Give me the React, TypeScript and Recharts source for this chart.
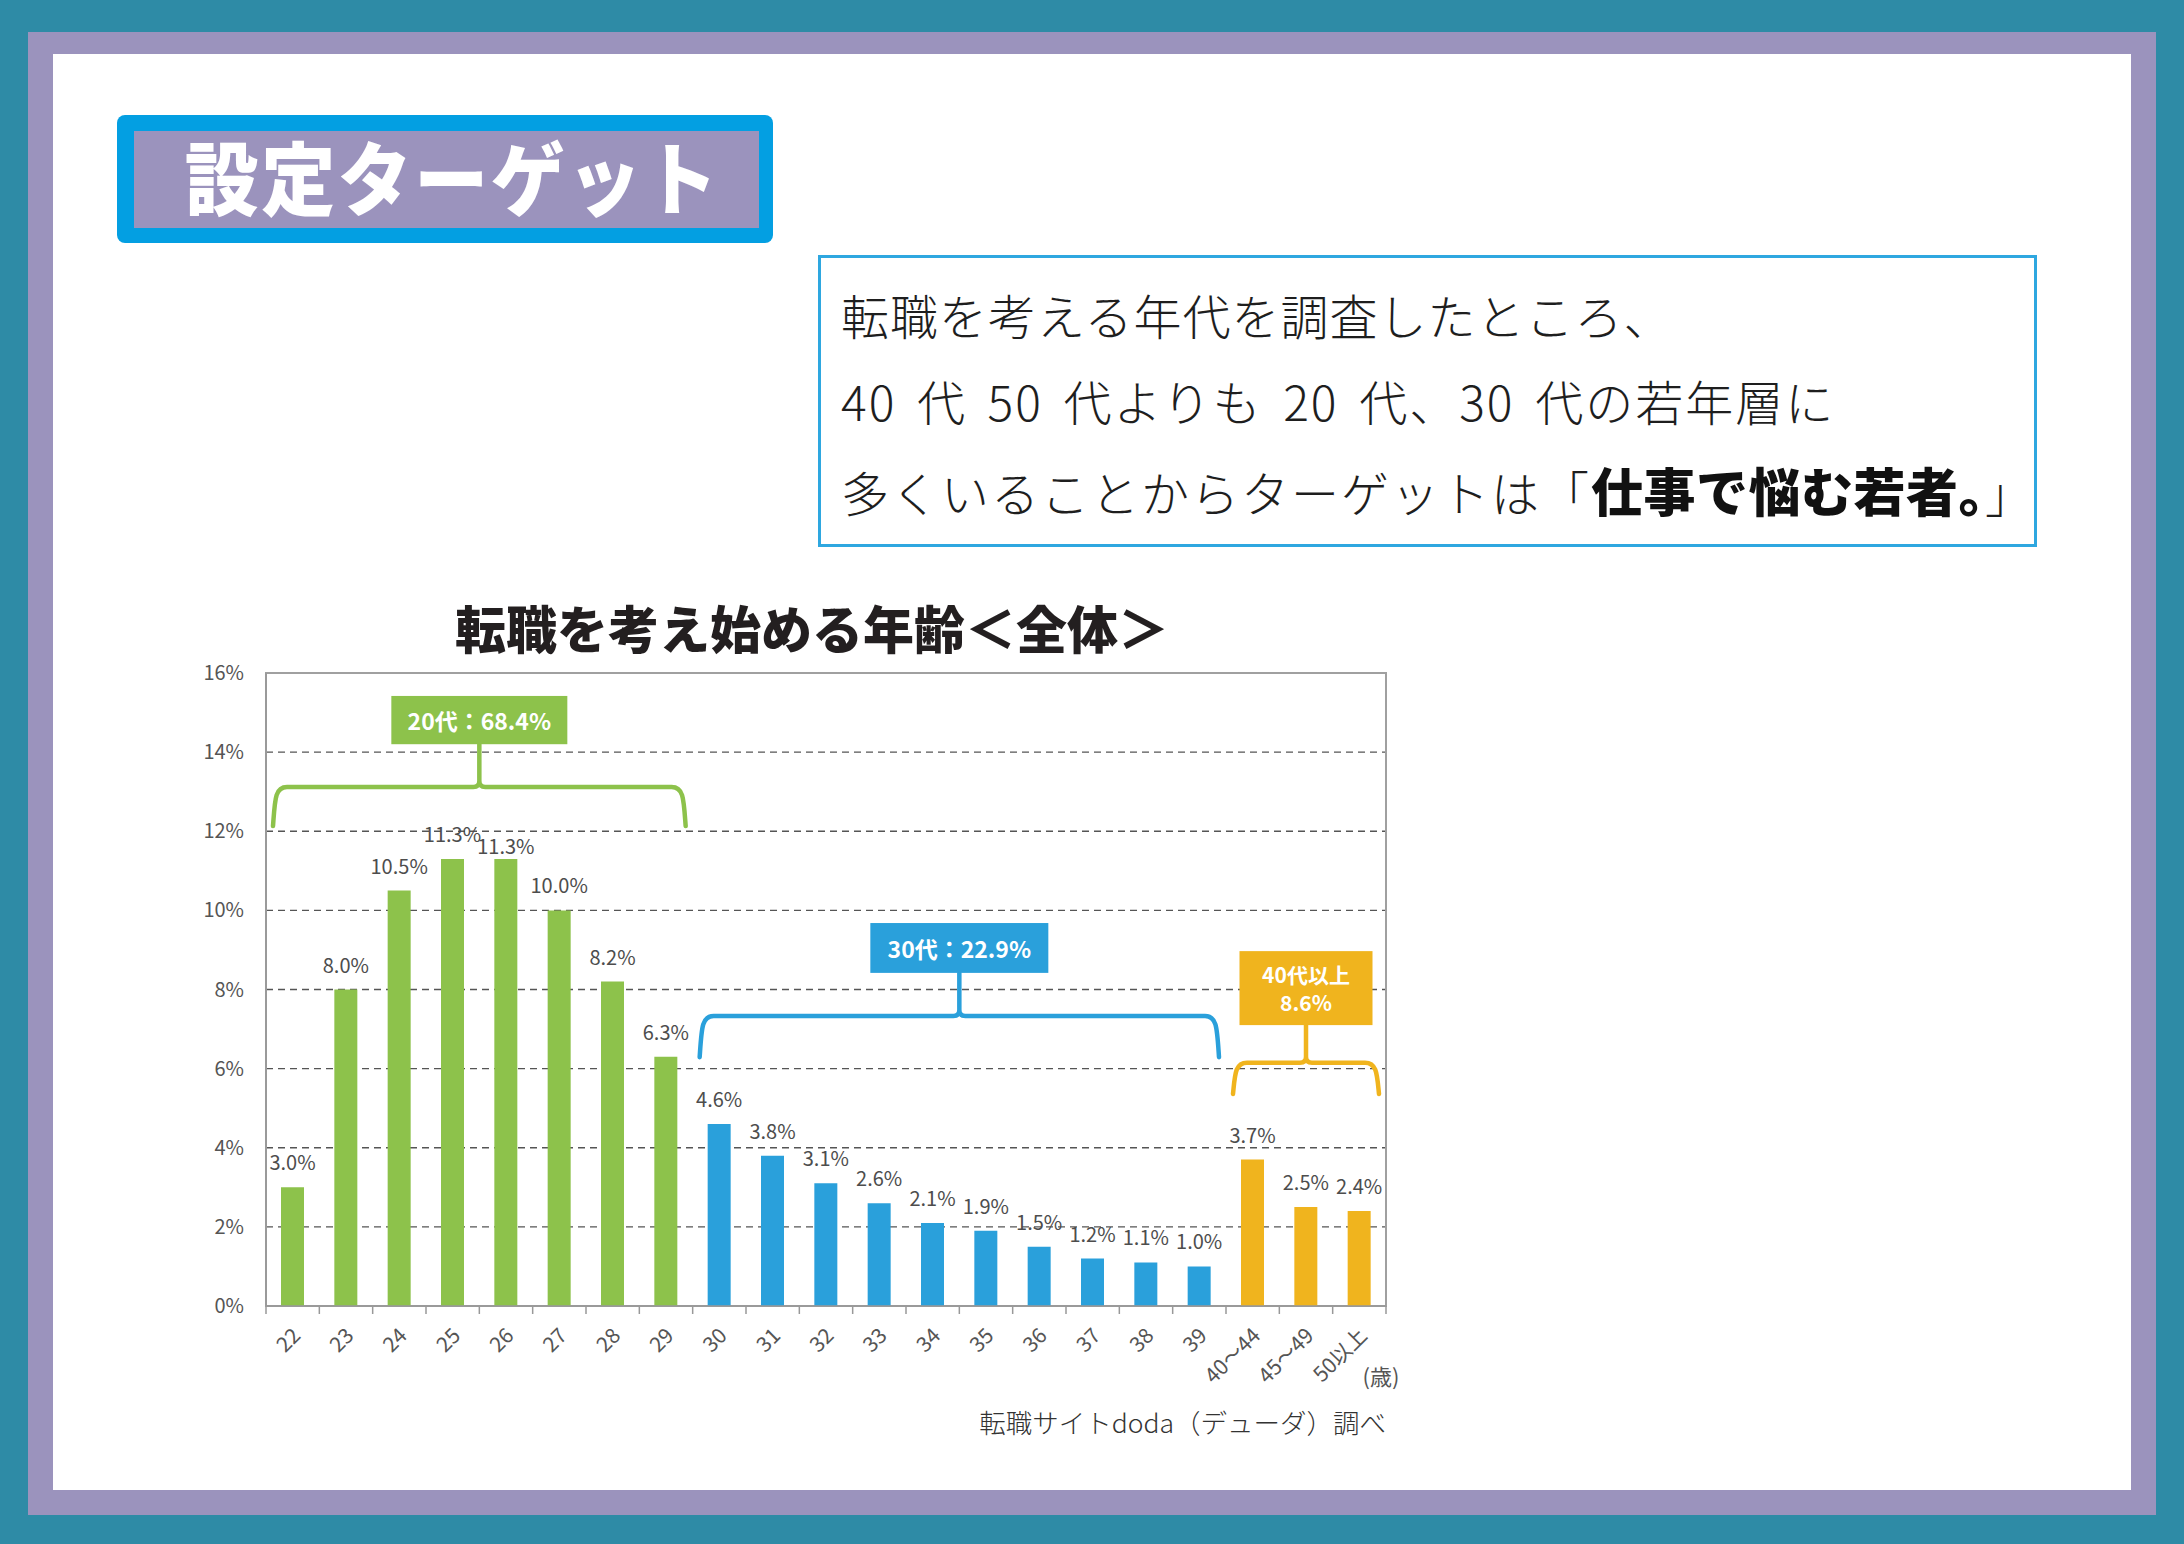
import React from 'react';
import {
  BarChart,
  Bar,
  XAxis,
  YAxis,
  CartesianGrid,
  Cell,
  LabelList,
  ReferenceArea,
} from 'recharts';

// ---------- data ----------
const ages = [
  '22', '23', '24', '25', '26', '27', '28', '29',
  '30', '31', '32', '33', '34', '35', '36', '37', '38', '39',
  '40～44', '45～49', '50以上',
];
const shares = [
  3.0, 8.0, 10.5, 11.3, 11.3, 10.0, 8.2, 6.3,
  4.6, 3.8, 3.1, 2.6, 2.1, 1.9, 1.5, 1.2, 1.1, 1.0,
  3.7, 2.5, 2.4,
];
const groups = [
  '20代', '20代', '20代', '20代', '20代', '20代', '20代', '20代',
  '30代', '30代', '30代', '30代', '30代', '30代', '30代', '30代', '30代', '30代',
  '40代以上', '40代以上', '40代以上',
];
const yTicks = [0, 2, 4, 6, 8, 10, 12, 14, 16];

// group annotation (brace) values, in % on the y axis
const braceGroups = ['20代', '30代', '40代以上'];
const braceFrom = ['22', '30', '40～44'];
const braceTo = ['29', '39', '50以上'];
const braceTip = [12.13, 6.29, 5.36];
const braceLine = [13.12, 7.33, 6.15];
const braceBoxBottom = [14.2, 8.42, 7.1];
const braceBoxTop = [15.42, 9.68, 8.97];
const braceLabels = [['20代：68.4%'], ['30代：22.9%'], ['40代以上', '8.6%']];

// ---------- style ----------
const COLORS: Record<string, string> = {
  '20代': '#8dc24b',
  '30代': '#2aa0db',
  '40代以上': '#f0b41e',
};
const BOX_W: Record<string, number> = { '20代': 176, '30代': 178, '40代以上': 133 };
const FONT = '"Noto Sans CJK JP", "Noto Sans", sans-serif';

const CH_LEFT = 180;
const CH_TOP = 600;
const CH_W = 1250;
const CH_H = 820;
const MARGIN = { top: 73, right: 44, bottom: 54, left: 26 };
const Y_W = 60;
const X_H = 60;
const PLOT_W = CH_W - MARGIN.left - MARGIN.right - Y_W;
const BAND = PLOT_W / ages.length;

const chartData = ages.map((age, i) => ({ age, share: shares[i], group: groups[i] }));

const XTick = (props: any) => {
  const { x, y, payload, index } = props;
  const half = BAND / 2;
  const isLast = index === ages.length - 1;
  return (
    <g>
      <line x1={x - half} x2={x - half} y1={y} y2={y + 8} stroke="#999" strokeWidth={1.5} />
      {isLast && <line x1={x + half} x2={x + half} y1={y} y2={y + 8} stroke="#999" strokeWidth={1.5} />}
      <text
        transform={`translate(${x + 9},${y + 31}) rotate(-45)`}
        textAnchor="end"
        fill="#555"
        fontSize={21}
        fontFamily={FONT}
      >
        {payload.value}
      </text>
    </g>
  );
};

// value label; when the previous bar has the same value, this label sits lower so both stay readable
const ValueLabel = (props: any) => {
  const { x, y, width, value, index } = props;
  const lower = index > 0 && shares[index - 1] === shares[index] ? 12 : 0;
  return (
    <text
      x={x + width / 2}
      y={y - 17 + lower}
      textAnchor="middle"
      fill="#4d4d4d"
      fontSize={20}
      fontFamily={FONT}
    >
      {`${Number(value).toFixed(1)}%`}
    </text>
  );
};

const Brace = (props: any) => {
  const { x, y, width, height, idx } = props;
  const g = braceGroups[idx];
  const color = COLORS[g];
  const tip = braceTip[idx];
  const span = braceBoxTop[idx] - tip;
  const py = (v: number) => y + height - ((v - tip) / span) * height;
  const inset = 9;
  const xl = x + inset;
  const xr = x + width - inset;
  const cx = x + width / 2;
  const yl = py(braceLine[idx]);
  const yb = py(braceBoxBottom[idx]);
  const yt = py(braceBoxTop[idx]);
  const ytip = y + height;
  const r = 12;
  const s = 6;
  const d =
    `M${xl - 2},${ytip} C${xl},${yl + r} ${xl},${yl} ${xl + r},${yl} L${cx - s},${yl} ` +
    `Q${cx},${yl} ${cx},${yl - s} L${cx},${yb} ` +
    `M${cx},${yl - s} Q${cx},${yl} ${cx + s},${yl} L${xr - r},${yl} C${xr},${yl} ${xr},${yl + r} ${xr + 2},${ytip}`;
  const labels = braceLabels[idx];
  const bw = BOX_W[g];
  const cy = (yt + yb) / 2;
  const multi = labels.length > 1;
  return (
    <g>
      <path d={d} fill="none" stroke={color} strokeWidth={4.5} strokeLinecap="round" strokeLinejoin="round" />
      <rect x={cx - bw / 2} y={yt} width={bw} height={yb - yt} fill={color} />
      {labels.map((t, i) => (
        <text
          key={i}
          x={cx}
          y={cy + (i - (labels.length - 1) / 2) * 28}
          textAnchor="middle"
          dominantBaseline="central"
          fill="#fff"
          fontSize={multi ? 21 : 23}
          fontWeight={700}
          fontFamily={FONT}
        >
          {t}
        </text>
      ))}
    </g>
  );
};

const abs = (l: number, t: number, w: number, h: number, extra: React.CSSProperties = {}): React.CSSProperties => ({
  position: 'absolute',
  left: l,
  top: t,
  width: w,
  height: h,
  boxSizing: 'border-box',
  ...extra,
});

const lineStyle = (center: number): React.CSSProperties => ({
  position: 'absolute',
  left: 841,
  top: center - 34,
  height: 60,
  lineHeight: '60px',
  fontSize: 48,
  letterSpacing: 1,
  fontWeight: 300,
  color: '#1e1e1e',
  whiteSpace: 'nowrap',
  fontFamily: FONT,
});

export default function App() {
  return (
    <div style={{ position: 'absolute', left: 0, top: 0, width: 2184, height: 1544, background: '#2e8ba6', fontFamily: FONT }}>
      <div style={abs(28, 32, 2128, 1483, { background: '#9b93bd' })} />
      <div style={abs(53, 54, 2078, 1436, { background: '#ffffff' })} />

      {/* header */}
      <div style={abs(117, 115, 656, 128, { background: '#039fe2', borderRadius: 8 })} />
      <div
        style={abs(134, 131, 625, 97, {
          background: '#9b93bd',
          display: 'flex',
          alignItems: 'center',
          justifyContent: 'center',
        })}
      >
        <span
          style={{
            color: '#fff',
            fontSize: 74,
            fontWeight: 900,
            letterSpacing: 2.5,
            lineHeight: 1,
            display: 'inline-block',
            transform: 'translate(6px, -6px) scaleY(1.08)',
          }}
        >
          設定ターゲット
        </span>
      </div>

      {/* text box */}
      <div style={abs(818, 255, 1219, 292, { border: '3px solid #2ea7e0' })} />
      <div style={lineStyle(318)}>転職を考える年代を調査したところ、</div>
      <div style={{ ...lineStyle(404), wordSpacing: 8, letterSpacing: 2 }}>40 代 50 代よりも 20 代、30 代の若年層に</div>
      <div style={{ ...lineStyle(494), letterSpacing: 2 }}>
        多くいることからターゲットは「
        <span style={{ fontWeight: 900, color: '#111', fontSize: 52, letterSpacing: 0.5 }}>仕事で悩む若者。</span>」
      </div>

      {/* chart title */}
      <div
        style={abs(412, 597, 800, 60, {
          textAlign: 'center',
          fontSize: 51,
          fontWeight: 900,
          lineHeight: '60px',
          color: '#231f20',
          whiteSpace: 'nowrap',
        })}
      >
        転職を考え始める年齢＜全体＞
      </div>

      {/* chart */}
      <div style={abs(CH_LEFT, CH_TOP, CH_W, CH_H)}>
        <BarChart width={CH_W} height={CH_H} data={chartData} margin={MARGIN}>
          <CartesianGrid vertical={false} stroke="#555" strokeDasharray="7 5" strokeWidth={1.3} />
          <XAxis
            dataKey="age"
            height={X_H}
            interval={0}
            axisLine={{ stroke: '#999', strokeWidth: 1.5 }}
            tickLine={false}
            tickSize={0}
            tickMargin={0}
            tick={<XTick />}
          />
          <YAxis
            width={Y_W}
            domain={[0, 16]}
            ticks={yTicks}
            interval={0}
            axisLine={{ stroke: '#999', strokeWidth: 1.5 }}
            tickLine={false}
            tickSize={0}
            tickMargin={22}
            tickFormatter={(v: number) => `${v}%`}
            tick={{ fill: '#555', fontSize: 20, fontFamily: FONT }}
          />
          <ReferenceArea
            x1={ages[0]}
            x2={ages[ages.length - 1]}
            y1={0}
            y2={16}
            fill="none"
            fillOpacity={0}
            stroke="#a0a0a0"
            strokeWidth={2}
            ifOverflow="visible"
          />
          <Bar dataKey="share" barSize={23} isAnimationActive={false}>
            {chartData.map((d) => (
              <Cell key={d.age} fill={COLORS[d.group]} />
            ))}
            <LabelList dataKey="share" content={<ValueLabel />} />
          </Bar>
          {braceGroups.map((g, i) => (
            <ReferenceArea
              key={g}
              x1={braceFrom[i]}
              x2={braceTo[i]}
              y1={braceTip[i]}
              y2={braceBoxTop[i]}
              ifOverflow="visible"
              shape={(p: any) => <Brace {...p} idx={i} />}
            />
          ))}
        </BarChart>
      </div>

      <div style={abs(1351, 1360, 60, 30, { textAlign: 'center', fontSize: 22, lineHeight: '30px', color: '#555' })}>(歳)</div>

      <div
        style={abs(886, 1402, 500, 40, {
          textAlign: 'right',
          fontSize: 26.5,
          fontWeight: 300,
          lineHeight: '40px',
          color: '#333',
          whiteSpace: 'nowrap',
        })}
      >
        転職サイトdoda（デューダ）調べ
      </div>
    </div>
  );
}
